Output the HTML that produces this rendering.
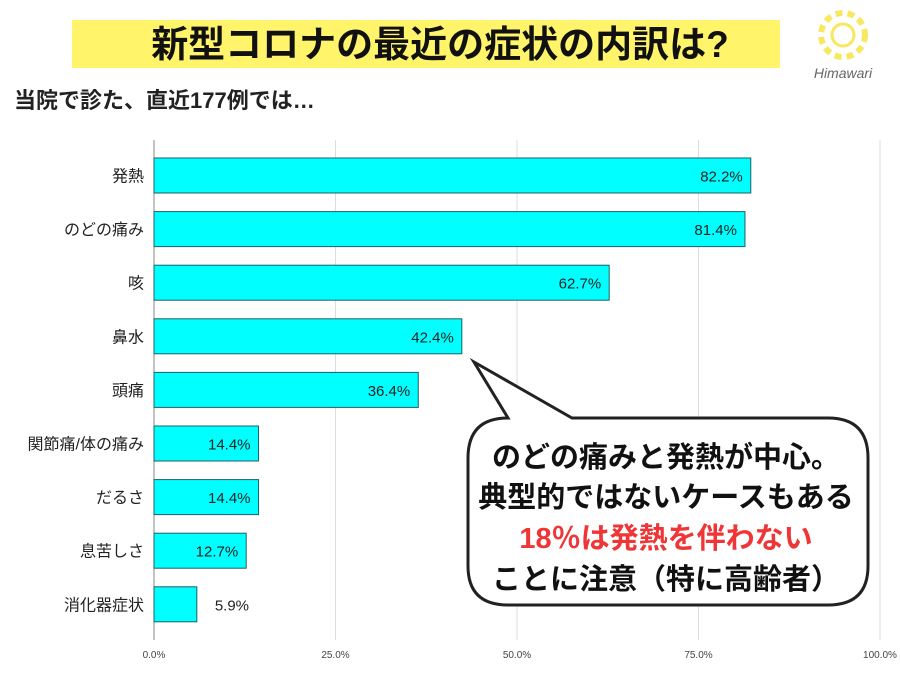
<!DOCTYPE html>
<html><head><meta charset="utf-8"><style>
body{margin:0;background:#fff;}
svg{display:block;font-family:"Liberation Sans","Noto Sans CJK JP",sans-serif;}
</style></head><body>
<svg id="chart" width="900" height="675" viewBox="0 0 900 675">
<rect x="0" y="0" width="900" height="675" fill="#fff"/>
<rect x="72" y="20" width="708" height="48" fill="#fff46a"/>
<text x="440" y="57" text-anchor="middle" font-size="37" font-weight="bold" fill="#111">新型コロナの最近の症状の内訳は?</text>
<text x="14" y="108" font-size="22" font-weight="bold" fill="#222">当院で診た、直近177例では…</text>
<g>
<circle cx="843" cy="35" r="22" fill="none" stroke="#f8e760" stroke-width="6" stroke-dasharray="7 5"/>
<circle cx="843" cy="35" r="11" fill="none" stroke="#f8e760" stroke-width="3"/>
<text x="843" y="78" text-anchor="middle" font-size="14" font-style="italic" fill="#666">Himawari</text>
</g>
<g id="grid"></g>
<g id="bars"></g>
<g id="labels"></g>
<g>
<path d="M 508 418 L 474 362 L 572 418 L 828 418 Q 868 418 868 458 L 868 566 Q 868 605 828 605 L 508 605 Q 468 605 468 566 L 468 458 Q 468 418 508 418 Z" fill="#fff" stroke="#222" stroke-width="3"/>
<g font-size="29" font-weight="bold" text-anchor="middle">
<text x="666" y="467" fill="#111">のどの痛みと発熱が中心。</text>
<text x="666" y="507" fill="#111">典型的ではないケースもある</text>
<text x="666" y="548" fill="#ef3535">18％は発熱を伴わない</text>
<text x="666" y="589" fill="#111">ことに注意（特に高齢者）</text>
</g>
</g>
</svg>
<script>
const categories=["発熱","のどの痛み","咳","鼻水","頭痛","関節痛/体の痛み","だるさ","息苦しさ","消化器症状"];
const values=[82.2,81.4,62.7,42.4,36.4,14.4,14.4,12.7,5.9];
const ticks=[0,25,50,75,100];
const tickLabels=["0.0%","25.0%","50.0%","75.0%","100.0%"];
const NS="http://www.w3.org/2000/svg";
const x=v=>154+v*7.26;
const y=i=>158+i*53.6;
const bh=35;
function mk(t,a,p){const e=document.createElementNS(NS,t);for(const k in a)e.setAttribute(k,a[k]);p.appendChild(e);return e;}
const g=document.getElementById('grid'),b=document.getElementById('bars'),l=document.getElementById('labels');
ticks.forEach((t,i)=>{
 const ln=mk('line',{x1:x(t),x2:x(t),y1:140,y2:640,stroke:t===0?'#888':'#ddd','stroke-width':1},g);
 
 
 const tx=mk('text',{x:x(t),y:658,'text-anchor':'middle','font-size':10,fill:'#444'},g);
 tx.textContent=tickLabels[i];
 
 
});
categories.forEach((c,i)=>{
 const r=mk('rect',{x:x(0),y:y(i),width:x(values[i])-x(0),height:bh,fill:'#00ffff',stroke:'#1f5f66','stroke-width':1},b);
 
 
 const cl=mk('text',{x:144,y:y(i)+bh/2+6,'text-anchor':'end','font-size':16,fill:'#222'},l);
 cl.textContent=c;
 
 
 const inside=values[i]>10;
 const vl=mk('text',{x:inside?x(values[i])-8:x(values[i])+18,y:y(i)+bh/2+6,'text-anchor':inside?'end':'start','font-size':15,fill:'#222'},l);
 vl.textContent=values[i].toFixed(1)+'%';
 
 
});
</script>
</body></html>
